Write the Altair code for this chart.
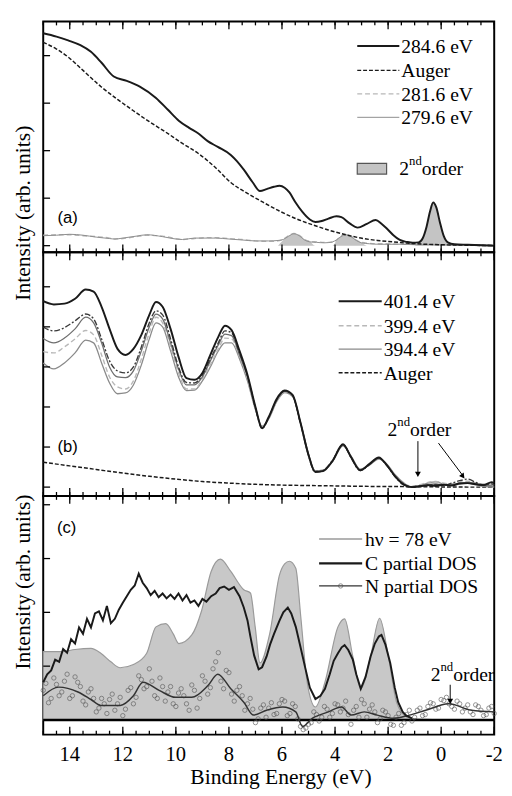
import altair as alt
import pandas as pd

SERIF = "Liberation Serif"
SANS = "Liberation Sans"
INK = "#1a1a1a"

# ---------------- axis tick values / labels ----------------
MAJOR_TICKS = [14, 12, 10, 8, 6, 4, 2, 0, -2]
MAJOR_LABELS = ["14", "12", "10", "8", "6", "4", "2", "0", "-2"]
MINOR_TICKS = [15, 14.5, 14, 13.5, 13, 12.5, 12, 11.5, 11, 10.5, 10, 9.5, 9, 8.5, 8, 7.5, 7,
               6.5, 6, 5.5, 5, 4.5, 4, 3.5, 3, 2.5, 2, 1.5, 1, 0.5, 0, -0.5, -1, -1.5, -2]
YTICKS_A = [0, 1, 2, 3, 4]
YTICKS_B = [0, 1, 2, 3, 4, 5]
YTICKS_C = [0, 1, 2, 3, 4]

# ---------------- panel (a) data ----------------
x_284 = [15, 14.5, 14.06, 13.6, 13.2, 12.8, 12.34, 11.85, 11.36, 10.75, 10.3, 9.89, 9.5, 9.15, 8.8,
         8.42, 7.93, 7.7, 7.44, 7.1, 6.83, 6.58, 6.3, 6.09, 5.9, 5.72, 5.5, 5.23, 4.95, 4.74, 4.5,
         4.25, 3.95, 3.76, 3.45, 3.15, 2.8, 2.47, 2.25, 2.05, 1.8, 1.56, 1.3, 1.07, 0.85, 0.7, 0.55,
         0.42, 0.3, 0.18, 0.05, -0.1, -0.25, -0.5, -1.0, -1.5, -2.0]
y_284 = [4.47, 4.40, 4.32, 4.22, 4.08, 3.85, 3.56, 3.47, 3.35, 3.11, 2.86, 2.63, 2.48, 2.36, 2.2,
         2.08, 1.91, 1.78, 1.60, 1.33, 1.15, 1.19, 1.24, 1.26, 1.22, 1.12, 0.92, 0.71, 0.55, 0.50, 0.52,
         0.57, 0.62, 0.60, 0.47, 0.38, 0.46, 0.54, 0.46, 0.36, 0.22, 0.12, 0.08, 0.06, 0.07, 0.15, 0.4,
         0.72, 0.91, 0.8, 0.5, 0.2, 0.07, 0.03, 0.02, 0.01, 0.0]
x_aug_a = [15, 14.5, 14.06, 13.5, 12.83, 12.2, 11.6, 11, 10.38, 9.8, 9.15, 8.5, 7.93, 7.3, 6.7, 6.1,
           5.48, 4.85, 4.25, 3.6, 3.03, 2.4, 1.81, 1.2, 0.58, 0, -1, -2]
y_aug_a = [4.28, 4.14, 3.97, 3.69, 3.35, 3.08, 2.84, 2.61, 2.39, 2.17, 1.94, 1.64, 1.33, 1.1, 0.91, 0.73,
           0.57, 0.44, 0.33, 0.23, 0.16, 0.11, 0.08, 0.05, 0.03, 0.02, 0.01, 0.0]
x_low_a = [15, 14.5, 14, 13.5, 13, 12.5, 12.3, 12, 11.5, 11.1, 10.5, 10, 9.75, 9.3, 8.8, 8.5, 8, 7.5, 7,
           6.5, 6.15, 5.95, 5.75, 5.55, 5.35, 5.15, 4.95, 4.7, 4.4, 4.1, 3.95, 3.78, 3.58, 3.4, 3.2, 3.0,
           2.7, 2.3, 2.0, 1.5, 1.0, 0.5, 0, -0.5, -1, -1.5, -2]
y_281 = [0.22, 0.23, 0.23, 0.21, 0.19, 0.16, 0.14, 0.15, 0.19, 0.22, 0.2, 0.15, 0.13, 0.15, 0.17, 0.17,
         0.15, 0.13, 0.1, 0.09, 0.1, 0.14, 0.21, 0.26, 0.22, 0.13, 0.09, 0.08, 0.07, 0.07, 0.11, 0.2, 0.24,
         0.2, 0.12, 0.07, 0.05, 0.04, 0.04, 0.03, 0.03, 0.03, 0.02, 0.02, 0.02, 0.02, 0.02]
y_279 = [0.21, 0.22, 0.24, 0.22, 0.18, 0.15, 0.14, 0.16, 0.2, 0.23, 0.19, 0.14, 0.13, 0.16, 0.16, 0.16,
         0.14, 0.12, 0.1, 0.1, 0.11, 0.13, 0.2, 0.25, 0.21, 0.12, 0.08, 0.07, 0.06, 0.08, 0.12, 0.19, 0.23,
         0.19, 0.11, 0.06, 0.04, 0.03, 0.03, 0.03, 0.02, 0.02, 0.02, 0.01, 0.01, 0.01, 0.01]
x_2nd_a = [6.15, 5.95, 5.75, 5.55, 5.35, 5.15, 4.95, 4.75, 4.1, 3.95, 3.78, 3.58, 3.4, 3.2, 3.0, 2.8,
           1.0, 0.85, 0.7, 0.55, 0.42, 0.3, 0.18, 0.05, -0.1, -0.25, -0.5]
y_2nd_a = [0.0, 0.12, 0.2, 0.26, 0.22, 0.13, 0.09, 0.0, 0.0, 0.1, 0.2, 0.24, 0.2, 0.12, 0.06, 0.0,
           0.0, 0.07, 0.15, 0.4, 0.72, 0.91, 0.8, 0.5, 0.2, 0.07, 0.0]

# ---------------- panel (b) data ----------------
x_b = [15, 14.6, 14.2, 13.8, 13.4, 13.1, 12.8, 12.5, 12.2, 11.9, 11.6, 11.3, 11.0, 10.75, 10.5, 10.2,
       9.9, 9.6, 9.3, 9.0, 8.7, 8.4, 8.15, 7.9, 7.6, 7.3, 7.0, 6.75, 6.5, 6.2, 5.9, 5.6, 5.3, 5.0, 4.75,
       4.45, 4.1, 3.7, 3.4, 3.05, 2.7, 2.35, 2.05, 1.75, 1.4, 1.1, 0.8, 0.5, 0.2, -0.1, -0.4, -0.7, -1.0,
       -1.3, -1.6, -1.9, -2.0]
y_401 = [4.64, 4.56, 4.58, 4.70, 4.93, 4.88, 4.5, 3.95, 3.45, 3.30, 3.45, 3.8, 4.3, 4.62, 4.5, 3.95,
         3.25, 2.72, 2.68, 2.85, 3.3, 3.75, 4.03, 3.92, 3.4, 2.8, 2.0, 1.47, 1.75, 2.2, 2.41, 2.3, 1.6,
         0.8, 0.38, 0.40, 0.65, 1.07, 0.75, 0.42, 0.58, 0.74, 0.55, 0.28, 0.06, 0.0, 0.02, 0.05, 0.03,
         0.06, 0.04, 0.09, 0.1, 0.07, 0.05, 0.12, 0.1]
y_bx1 = [3.99, 3.9, 3.98, 4.15, 4.32, 4.2, 3.7, 3.15, 2.9, 2.85, 3.0, 3.5, 4.1, 4.40, 4.3, 3.7, 3.0,
         2.61, 2.6, 2.8, 3.2, 3.6, 3.9, 3.85, 3.35, 2.78, 1.98, 1.46, 1.74, 2.18, 2.40, 2.28, 1.58, 0.79,
         0.37, 0.41, 0.66, 1.06, 0.74, 0.41, 0.57, 0.73, 0.54, 0.27, 0.05, 0.01, 0.03, 0.04, 0.06, 0.05,
         0.1, 0.16, 0.2, 0.12, 0.06, 0.08, 0.05]
y_bx2 = [3.71, 3.6, 3.72, 3.95, 4.24, 4.1, 3.6, 3.0, 2.75, 2.73, 2.9, 3.4, 4.0, 4.32, 4.2, 3.6, 2.95,
         2.55, 2.55, 2.75, 3.15, 3.55, 3.82, 3.78, 3.3, 2.75, 1.97, 1.48, 1.73, 2.17, 2.39, 2.29, 1.59,
         0.81, 0.39, 0.42, 0.64, 1.05, 0.76, 0.43, 0.56, 0.72, 0.56, 0.29, 0.07, 0.0, 0.02, 0.06, 0.08,
         0.05, 0.06, 0.1, 0.12, 0.09, 0.04, 0.03, 0.02]
y_399 = [3.38, 3.35, 3.5, 3.7, 3.91, 3.8, 3.3, 2.75, 2.5, 2.45, 2.65, 3.2, 3.85, 4.24, 4.1, 3.5, 2.85,
         2.45, 2.45, 2.7, 3.05, 3.45, 3.72, 3.7, 3.25, 2.7, 1.95, 1.5, 1.72, 2.15, 2.37, 2.27, 1.6, 0.82,
         0.4, 0.43, 0.66, 1.04, 0.77, 0.44, 0.57, 0.71, 0.57, 0.31, 0.09, 0.02, 0.06, 0.12, 0.14, 0.1,
         0.08, 0.12, 0.15, 0.1, 0.08, 0.06, 0.05]
y_394 = [3.10, 2.95, 3.1, 3.35, 3.67, 3.6, 3.1, 2.6, 2.33, 2.35, 2.55, 3.05, 3.7, 4.1, 4.0, 3.4, 2.75,
         2.41, 2.42, 2.65, 3.0, 3.4, 3.6, 3.6, 3.2, 2.65, 1.93, 1.52, 1.7, 2.13, 2.36, 2.26, 1.62, 0.83,
         0.41, 0.42, 0.63, 1.03, 0.78, 0.45, 0.55, 0.7, 0.58, 0.32, 0.1, 0.0, 0.04, 0.1, 0.13, 0.07,
         0.05, 0.08, 0.1, 0.06, 0.02, 0.0, 0.0]
x_aug_b = [15, 14, 13, 12, 11, 10, 9, 8, 7, 6, 5, 4, 3, 2, 1, 0, -1, -2]
y_aug_b = [0.62, 0.53, 0.44, 0.35, 0.27, 0.2, 0.14, 0.1, 0.07, 0.05, 0.04, 0.03, 0.02, 0.015, 0.01,
           0.005, 0.0, 0.0]

# ---------------- panel (c) data ----------------
x_hv = [15, 14.3, 13.8, 13.2, 12.83, 12.45, 12.1, 11.6, 11.1, 10.75, 10.38, 10.1, 9.89, 9.4, 9.03, 8.67,
        8.32, 7.93, 7.44, 7.19, 7.01, 6.83, 6.46, 6.09, 5.9, 5.72, 5.48, 5.29, 5.05, 4.74, 4.38, 3.89,
        3.64, 3.33, 3.03, 2.66, 2.32, 1.99, 1.68, 1.31, 1.0, 0.5, 0, -1, -2]
y_hv = [1.27, 1.27, 1.31, 1.33, 1.24, 1.08, 0.97, 1.03, 1.24, 1.73, 1.79, 1.6, 1.42, 1.58, 2.03, 2.76,
        2.99, 2.76, 2.42, 2.36, 1.73, 1.06, 1.61, 2.70, 2.9, 2.95, 2.82, 1.91, 0.70, 0.24, 0.70, 1.73,
        1.88, 1.18, 0.58, 1.18, 1.89, 1.18, 0.33, 0.06, 0.02, 0.01, 0.0, 0.0, 0.0]
x_cdos = [15, 14.85, 14.7, 14.55, 14.4, 14.25, 14.1, 13.95, 13.8, 13.65, 13.5, 13.35, 13.2, 13.05, 12.9,
          12.75, 12.6, 12.45, 12.3, 12.15, 12.0, 11.85, 11.7, 11.55, 11.4, 11.25, 11.1, 10.95, 10.8,
          10.65, 10.5, 10.35, 10.2, 10.05, 9.9, 9.75, 9.6, 9.45, 9.3, 9.15, 9.0, 8.85, 8.67, 8.5, 8.35,
          8.18, 8.0, 7.81, 7.6, 7.44, 7.3, 7.19, 7.05, 6.88, 6.75, 6.58, 6.45, 6.3, 6.09, 5.95, 5.78,
          5.65, 5.48, 5.3, 5.11, 4.95, 4.74, 4.55, 4.38, 4.2, 4.05, 3.89, 3.75, 3.64, 3.5, 3.33, 3.2,
          3.03, 2.85, 2.66, 2.5, 2.35, 2.25, 2.1, 1.92, 1.75, 1.62, 1.45, 1.31, 1.1]
y_cdos = [0.70, 0.85, 0.92, 1.12, 1.08, 1.32, 1.25, 1.50, 1.42, 1.72, 1.60, 1.88, 1.72, 1.98, 2.02,
          1.85, 2.12, 1.80, 1.88, 2.05, 2.18, 2.30, 2.42, 2.50, 2.72, 2.55, 2.45, 2.32, 2.40, 2.28,
          2.35, 2.26, 2.33, 2.25, 2.35, 2.22, 2.32, 2.18, 2.22, 2.12, 2.25, 2.2, 2.30, 2.35, 2.45, 2.48,
          2.42, 2.47, 2.3, 2.09, 1.85, 1.55, 1.2, 0.94, 0.98, 1.18, 1.4, 1.6, 1.85, 2.0, 2.09, 1.98,
          1.73, 1.35, 0.94, 0.6, 0.39, 0.45, 0.58, 0.85, 1.1, 1.24, 1.35, 1.39, 1.3, 1.12, 0.85, 0.58,
          0.8, 1.18, 1.42, 1.55, 1.58, 1.4, 1.06, 0.6, 0.33, 0.15, 0.08, 0.03]
x_ndos = [15, 14.42, 13.69, 13.2, 12.83, 12.1, 11.6, 11.24, 10.63, 10.01, 9.4, 8.79, 8.42, 7.93, 7.44,
          7.07, 6.58, 5.97, 5.48, 5.23, 4.86, 4.25, 3.76, 3.39, 2.9, 2.41, 1.8, 1.19, 0.58, -0.28,
          -1.14, -2.0]
y_ndos = [0.45, 0.61, 0.52, 0.38, 0.27, 0.27, 0.45, 0.70, 0.55, 0.42, 0.42, 0.64, 0.85, 0.58, 0.33,
          0.09, 0.18, 0.24, 0.15, -0.12, 0.03, 0.15, 0.24, 0.09, 0.15, 0.09, 0.03, 0.09, 0.18, 0.30,
          0.18, 0.15]
x_npts = [15.0, 14.8, 14.6, 14.4, 14.2, 14.0, 13.8, 13.6, 13.4, 13.2, 13.0, 12.8, 12.6, 12.4, 12.2,
          12.0, 11.8, 11.6, 11.4, 11.2, 11.0, 10.8, 10.6, 10.4, 10.2, 10.0, 9.8, 9.6, 9.4, 9.2, 9.0,
          8.8, 8.6, 8.4, 8.2, 8.0, 7.8, 7.6, 7.4, 7.2, 7.0, 6.8, 6.6, 6.4, 6.2, 6.0, 5.8, 5.6, 5.4,
          5.2, 5.0, 4.8, 4.6, 4.4, 4.2, 4.0, 3.8, 3.6, 3.4, 3.2, 3.0, 2.8, 2.6, 2.4, 2.2, 2.0, 1.8,
          1.6, 1.4, 1.2, 1.0, 0.8, 0.6, 0.4, 0.2, 0.0, -0.2, -0.4, -0.6, -0.8, -1.0, -1.2, -1.4, -1.6,
          -1.8, -2.0]
y_npts = [0.55, 0.32, 0.78, 0.45, 0.72, 0.40, 0.80, 0.62, 0.28, 0.58, 0.15, 0.40, 0.12, 0.48, 0.30,
          0.08, 0.55, 0.30, 0.82, 0.58, 0.95, 0.45, 0.78, 0.35, 0.62, 0.25, 0.58, 0.30, 0.65, 0.22,
          0.82, 0.48, 0.95, 1.25, 0.58, 0.88, 0.35, 0.62, 0.18, 0.40, -0.05, 0.22, 0.05, 0.32, 0.12,
          0.38, 0.08, 0.30, 0.02, -0.18, -0.08, 0.15, -0.02, 0.25, 0.05, 0.30, 0.15, 0.35, -0.08, 0.25,
          0.38, 0.05, 0.28, -0.05, 0.18, 0.08, -0.10, 0.12, -0.05, 0.18, 0.05, 0.22, 0.10, 0.32, 0.20,
          0.38, 0.42, 0.25, 0.35, 0.15, 0.28, 0.10, 0.25, 0.08, 0.22, 0.12]
x_npts2 = [14.9, 14.7, 14.5, 14.3, 14.1, 13.9, 13.7, 13.5, 13.3, 13.1, 12.9, 12.7, 12.5, 12.3, 12.1,
           11.9, 11.7, 11.5, 11.3, 11.1, 10.9, 10.7, 10.5, 10.3, 10.1, 9.9, 9.7, 9.5, 9.3, 9.1, 8.9,
           8.7, 8.5, 8.3, 8.1, 7.9, 7.7, 7.5, 7.3, 7.1, 6.9, 6.7, 6.5, 6.3, 6.1, 5.9, 5.7, 5.5, 5.3,
           5.1, 4.9, 4.7, 4.5, 4.3, 4.1, 3.9, 3.7, 3.5, 3.3, 3.1, 2.9, 2.7, 2.5, 2.3, 2.1, 1.9, 1.7,
           1.5, 1.3, 1.1, 0.9, 0.7, 0.5, 0.3, 0.1, -0.1, -0.3, -0.5, -0.7, -0.9, -1.1, -1.3, -1.5,
           -1.7, -1.9]
y_npts2 = [0.68, 0.40, 0.66, 0.52, 0.85, 0.45, 0.70, 0.35, 0.52, 0.40,
           0.22, 0.30, 0.38, 0.18, 0.42, 0.20, 0.60, 0.42, 0.75, 0.62,
           0.72, 0.40, 0.62, 0.52, 0.30, 0.50, 0.45, 0.18, 0.55, 0.40,
           0.72, 0.60, 1.08, 0.72, 0.92, 0.48, 0.55, 0.45, 0.30, 0.20,
           0.02, 0.28, 0.22, 0.10, 0.30, 0.35, 0.12, 0.25, -0.12, -0.15,
           -0.05, 0.10, 0.05, 0.20, 0.12, 0.28, 0.22, 0.10, 0.18, 0.05,
           0.30, 0.20, 0.15, 0.02, 0.15, -0.08, 0.05, -0.10, 0.10, -0.02,
           0.18, 0.08, 0.25, 0.30, 0.22, 0.36, 0.30, 0.20, 0.30, 0.22,
           0.15, 0.28, 0.18, 0.10, 0.25]

# ---------------- layout ----------------
W = 461
HA, HB, HC = 236, 249, 244
XS = alt.Scale(domain=[-2, 15], reverse=True, nice=False, zero=False)
YA = alt.Scale(domain=[-0.14, 4.72], nice=False, zero=False)
YB = alt.Scale(domain=[-0.22, 5.86], nice=False, zero=False)
YC = alt.Scale(domain=[-0.273, 4.164], nice=False, zero=False)
YTITLE = "Intensity (arb. units)"


def frame_ticks(H, yvals, ysc):
    maj = pd.DataFrame({"t": MAJOR_TICKS})
    mnr = pd.DataFrame({"t": MINOR_TICKS})
    yt = pd.DataFrame({"t": yvals})

    def xr(df, y1, y2):
        return alt.Chart(df).mark_rule(color="black", strokeWidth=1.3).encode(
            x=alt.X("t:Q", scale=XS, axis=None), y=alt.value(y1), y2=alt.value(y2))

    return [xr(maj, H - 8, H), xr(mnr, H - 4, H), xr(maj, 0, 8), xr(mnr, 0, 4),
            alt.Chart(yt).mark_rule(color="black", strokeWidth=1.3).encode(
                y=alt.Y("t:Q", scale=ysc, axis=None), x=alt.value(0), x2=alt.value(7))]


def x_labels(H):
    df = pd.DataFrame({"t": MAJOR_TICKS, "lab": MAJOR_LABELS})
    return alt.Chart(df).mark_text(font=SERIF, fontSize=21, baseline="alphabetic",
                                   align="center", color="black").encode(
        x=alt.X("t:Q", scale=XS, axis=None), y=alt.value(H + 27), text="lab:N")


def xy(xv, yv, ysc):
    df = pd.DataFrame({"x": xv, "y": yv})
    enc = dict(x=alt.X("x:Q", scale=XS, axis=None), y=alt.Y("y:Q", scale=ysc, axis=None))
    return alt.Chart(df), enc


def line(xv, yv, ysc, interp="monotone", **mk):
    ch, enc = xy(xv, yv, ysc)
    return ch.mark_line(interpolate=interp, **mk).encode(**enc)


def area(xv, yv, ysc, **mk):
    ch, enc = xy(xv, yv, ysc)
    return ch.mark_area(interpolate="monotone", **mk).encode(**enc)


def txt(s, x, y, size=20, font=SERIF, baseline="middle", align="left", angle=0):
    return alt.Chart(pd.DataFrame({"t": [s]})).mark_text(
        font=font, fontSize=size, baseline=baseline, align=align, color="black", angle=angle
    ).encode(x=alt.value(x), y=alt.value(y), text="t:N")


def ytitle(y):
    return txt(YTITLE, -14, y, size=22, baseline="alphabetic", align="center", angle=270)


def seg(x1, x2, y, color, width, dash=None, y2=None):
    mk = dict(color=color, strokeWidth=width)
    if dash:
        mk["strokeDash"] = dash
    enc = dict(x=alt.value(x1), x2=alt.value(x2), y=alt.value(y))
    if y2 is not None:
        enc["y2"] = alt.value(y2)
    return alt.Chart(pd.DataFrame({"k": [0]})).mark_rule(**mk).encode(**enc)


def head(x, y, angle=180):
    return alt.Chart(pd.DataFrame({"k": [0]})).mark_point(
        shape="triangle-up", angle=angle, filled=True, size=36, color="black", opacity=1
    ).encode(x=alt.value(x), y=alt.value(y))


def second_order(x, y):
    return [txt("2", x, y, baseline="alphabetic"),
            txt("nd", x + 10, y - 10, size=13, baseline="alphabetic"),
            txt("order", x + 23, y, baseline="alphabetic")]


# ---------------- panel (a) ----------------
pa_layers = [
    area(x_2nd_a, y_2nd_a, YA, color="#c4c4c4"),
    line(x_low_a, y_281, YA, color="#b8b8b8", strokeWidth=1.4, strokeDash=[5, 3]),
    line(x_low_a, y_279, YA, color="#8c8c8c", strokeWidth=1.0),
    line(x_aug_a, y_aug_a, YA, color=INK, strokeWidth=1.5, strokeDash=[4, 2]),
    line(x_284, y_284, YA, color=INK, strokeWidth=2.0),
    *frame_ticks(HA, YTICKS_A, YA),
    seg(321, 364, 25, INK, 2.0), txt("284.6 eV", 366, 26),
    seg(321, 364, 50, INK, 1.5, [4, 2]), txt("Auger", 366, 51),
    seg(321, 364, 74, "#b8b8b8", 1.4, [5, 3]), txt("281.6 eV", 366, 75),
    seg(321, 364, 98, "#8c8c8c", 1.0), txt("279.6 eV", 366, 99),
    alt.Chart(pd.DataFrame({"k": [0]})).mark_rect(color="#c4c4c4", stroke="#555", strokeWidth=1.2)
    .encode(x=alt.value(321), x2=alt.value(351), y=alt.value(145), y2=alt.value(156)),
    *second_order(364, 157),
    txt("(a)", 25, 201, size=17, font=SANS, align="center"),
    ytitle(196),
]
pa = alt.layer(*pa_layers).properties(width=W, height=HA)

# ---------------- panel (b) ----------------
pb_layers = [
    line(x_aug_b, y_aug_b, YB, color=INK, strokeWidth=1.5, strokeDash=[4, 2]),
    line(x_b, y_394, YB, color="#8a8a8a", strokeWidth=1.3),
    line(x_b, y_399, YB, color="#b8b8b8", strokeWidth=1.4, strokeDash=[5, 3]),
    line(x_b, y_bx2, YB, color="#6e6e6e", strokeWidth=1.3),
    line(x_b, y_bx1, YB, color="#3a3a3a", strokeWidth=1.4, strokeDash=[6, 2, 2, 2]),
    line(x_b, y_401, YB, color=INK, strokeWidth=2.0),
    *frame_ticks(HB, YTICKS_B, YB),
    seg(302, 346, 50, INK, 2.0), txt("401.4 eV", 348, 51),
    seg(302, 346, 75, "#b8b8b8", 1.4, [5, 3]), txt("399.4 eV", 348, 76),
    seg(302, 346, 99, "#8a8a8a", 1.3), txt("394.4 eV", 348, 100),
    seg(302, 346, 123, INK, 1.5, [4, 2]), txt("Auger", 348, 124),
    *second_order(352, 188),
    seg(383, 383, 193, "black", 1.0, y2=225),
    head(383, 227, 180),
    seg(404, 428, 195, "black", 1.0, y2=227),
    head(429, 229, 143),
    txt("(b)", 25, 199, size=17, font=SANS, align="center"),
]
pb = alt.layer(*pb_layers).properties(width=W, height=HB)

# ---------------- panel (c) ----------------
npts_df = pd.DataFrame({"x": x_npts + x_npts2, "y": y_npts + y_npts2})
pc_layers = [
    area(x_hv, y_hv, YC, fill="#c8c8c8", stroke="#9a9a9a", strokeWidth=1.2),
    alt.Chart(pd.DataFrame({"b": [0]})).mark_rule(color="black", strokeWidth=2.5)
    .encode(y=alt.Y("b:Q", scale=YC, axis=None)),
    alt.Chart(npts_df).mark_point(shape="circle", size=20, filled=False, stroke="#555",
                                  strokeWidth=0.9)
    .encode(x=alt.X("x:Q", scale=XS, axis=None), y=alt.Y("y:Q", scale=YC, axis=None)),
    line(x_ndos, y_ndos, YC, color="#333", strokeWidth=1.5),
    line(x_cdos, y_cdos, YC, interp="linear", color=INK, strokeWidth=2.0),
    *frame_ticks(HC, YTICKS_C, YC),
    x_labels(HC),
    txt("Binding Energy (eV)", 243, HC + 50, size=22, baseline="alphabetic", align="center"),
    seg(282, 326, 44, "#9a9a9a", 1.4), txt("hν = 78 eV", 329, 45),
    seg(282, 326, 69, INK, 2.2), txt("C partial DOS", 329, 70),
    seg(282, 326, 92, "#333", 1.4), txt("N partial DOS", 329, 93),
    alt.Chart(pd.DataFrame({"k": [0]})).mark_point(shape="circle", size=20, filled=False,
                                                    stroke="#555", strokeWidth=0.9)
    .encode(x=alt.value(304), y=alt.value(92)),
    *second_order(396, 189),
    seg(416, 416, 193, "black", 1.0, y2=208),
    head(416, 210, 180),
    txt("(c)", 24, 33, size=17, font=SANS, align="center"),
    ytitle(88),
]
pc = alt.layer(*pc_layers).properties(width=W, height=HC)

chart = alt.vconcat(pa, pb, pc, spacing=0, bounds="flush").properties(
    padding={"left": 2, "top": 3, "right": 0, "bottom": 0}
).configure_view(stroke="black", strokeWidth=2)

chart.save("out.html", embed_options={"renderer": "svg", "actions": False})
